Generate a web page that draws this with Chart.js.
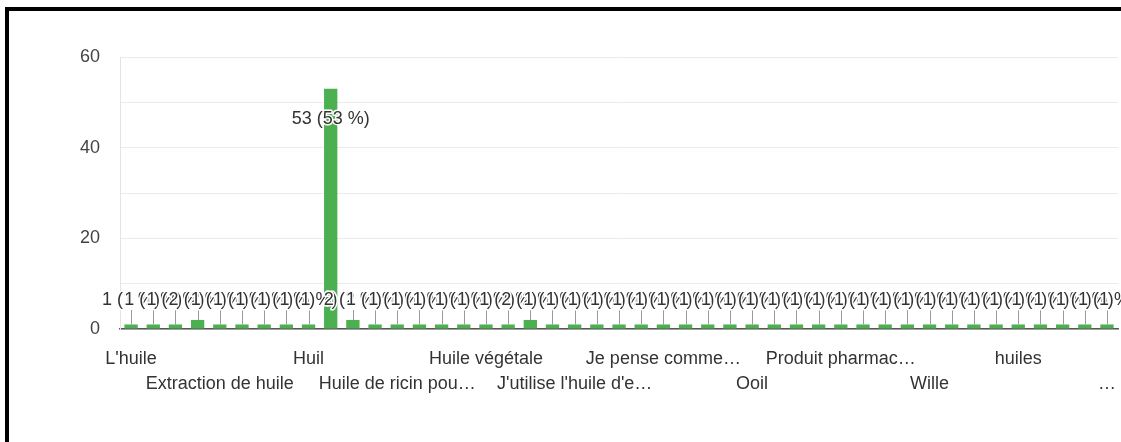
<!DOCTYPE html>
<html>
<head>
<meta charset="utf-8">
<script src="https://cdn.jsdelivr.net/npm/chart.js@4.4.1/dist/chart.umd.min.js"></script>
<style>
  html, body { margin: 0; padding: 0; background: #fff; overflow: hidden; }
  #wrap { position: relative; width: 1121px; height: 442px; overflow: hidden; }
  #frame { position: absolute; left: 5px; top: 7px; width: 1200px; height: 460px;
           border-left: 4px solid #000; border-top: 4px solid #000; box-sizing: border-box; }
  #c { position: absolute; left: 0; top: 0; }
</style>
</head>
<body>
<div id="wrap">
  <div id="frame"></div>
  <canvas id="c" width="1126" height="442"></canvas>
</div>
<script>
// réponses (seules les étiquettes visibles sont connues)
const categories = [
  "L'huile", '', '', '', 'Extraction de huile', '', '', '', 'Huil', '', '', '',
  'Huile de ricin pou…', '', '', '', 'Huile végétale', '', '', '',
  "J'utilise l'huile d'e…", '', '', '', 'Je pense comme…', '', '', '',
  'Ooil', '', '', '', 'Produit pharmac…', '', '', '', 'Wille', '', '', '',
  'huiles', '', '', '', '…'
];
const counts = [
  1, 1, 1, 2, 1, 1, 1, 1, 1, 53, 2, 1, 1, 1, 1, 1, 1, 1, 2, 1,
  1, 1, 1, 1, 1, 1, 1, 1, 1, 1, 1, 1, 1, 1, 1, 1, 1, 1, 1, 1,
  1, 1, 1, 1, 1
];
const yTicks = [0, 20, 40, 60];

const total = counts.reduce((a, b) => a + b, 0);
const FONT = "'Liberation Sans', Arial, sans-serif";

// étiquettes "n (p %)" façon Google Forms
const barLabels = {
  id: 'barLabels',
  afterDatasetsDraw(chart) {
    const ctx = chart.ctx;
    const meta = chart.getDatasetMeta(0);
    const y0 = chart.scales.y.getPixelForValue(0);
    ctx.save();
    ctx.font = '18px ' + FONT;
    ctx.textAlign = 'center';
    ctx.textBaseline = 'middle';
    // tiges
    ctx.strokeStyle = '#999';
    ctx.lineWidth = 1;
    meta.data.forEach((bar, i) => {
      if (counts[i] >= 10) return;
      ctx.beginPath();
      ctx.moveTo(Math.round(bar.x) + 0.5, y0 - 19);
      ctx.lineTo(Math.round(bar.x) + 0.5, bar.y);
      ctx.stroke();
    });
    meta.data.forEach((bar, i) => {
      const v = counts[i];
      const txt = v + ' (' + Math.round(v / total * 100) + ' %)';
      const ty = v >= 10 ? bar.y + 30 : y0 - 29;
      ctx.lineWidth = 3;
      ctx.lineJoin = 'round';
      ctx.strokeStyle = '#fff';
      ctx.strokeText(txt, bar.x, ty);
      ctx.fillStyle = '#333';
      ctx.fillText(txt, bar.x, ty);
    });
    ctx.restore();
  }
};

new Chart(document.getElementById('c'), {
  type: 'bar',
  data: {
    labels: categories,
    datasets: [{
      data: counts,
      backgroundColor: '#4caf50',
      categoryPercentage: 1,
      barPercentage: 0.6
    }]
  },
  options: {
    responsive: false,
    animation: false,
    layout: { padding: { top: 57, right: 2, left: 0, bottom: 0 } },
    plugins: { legend: { display: false }, tooltip: { enabled: false } },
    scales: {
      x: {
        grid: { display: false },
        border: { display: true, color: '#555', width: 1.5 },
        ticks: {
          autoSkip: false, maxRotation: 0, minRotation: 0, padding: 10,
          color: '#333',
          font: { family: FONT, size: 18, lineHeight: 1.39 },
          callback: (v, i) => {
            const l = categories[i];
            if (!l) return '';
            return (i / 4) % 2 ? ['', l] : l;
          }
        },
        afterFit: s => { s.height = 113; }
      },
      y: {
        min: 0, max: 60,
        grid: { color: '#ebebeb', drawTicks: false },
        border: { display: true, color: '#e4e4e4' },
        ticks: {
          stepSize: 10, padding: 20, color: '#444',
          font: { family: FONT, size: 18 },
          callback: v => yTicks.includes(v) ? v : ''
        },
        afterFit: s => { s.width = 120; }
      }
    }
  },
  plugins: [barLabels]
});
</script>
</body>
</html>
